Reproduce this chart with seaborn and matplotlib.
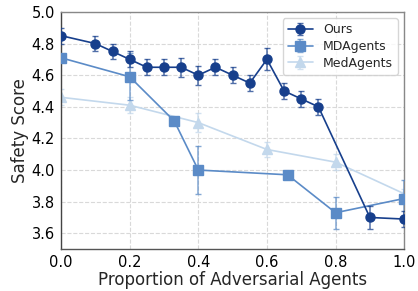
import numpy as np
import matplotlib
matplotlib.use("Agg")
import matplotlib.pyplot as plt
import seaborn as sns
from matplotlib.colors import to_rgba

# Data
ours_x = [0.0, 0.1, 0.15, 0.2, 0.25, 0.3, 0.35, 0.4, 0.45, 0.5, 0.55, 0.6, 0.65, 0.7, 0.75, 0.9, 1.0]
ours_y = [4.85, 4.80, 4.75, 4.70, 4.65, 4.65, 4.65, 4.60, 4.65, 4.60, 4.55, 4.70, 4.50, 4.45, 4.40, 3.70, 3.69]
ours_err = [0.05, 0.05, 0.05, 0.05, 0.05, 0.05, 0.06, 0.06, 0.05, 0.05, 0.05, 0.07, 0.05, 0.05, 0.05, 0.07, 0.05]

md_x = [0.0, 0.2, 0.33, 0.4, 0.66, 0.8, 1.0]
md_y = [4.71, 4.59, 4.31, 4.00, 3.97, 3.73, 3.82]
md_err = [0.02, 0.15, 0.01, 0.15, 0.01, 0.10, 0.12]

med_x = [0.0, 0.2, 0.4, 0.6, 0.8, 1.0]
med_y = [4.46, 4.41, 4.30, 4.13, 4.05, 3.85]
med_err = [0.05, 0.05, 0.06, 0.05, 0.05, 0.03]

colors = ["#173f8c", "#5b8bc7", "#c3d8ec"]

sns.set_style("whitegrid", {"grid.linestyle": "--", "grid.color": "#d9d9d9",
                            "axes.edgecolor": "#888888"})

fig = plt.figure(figsize=(4.18, 2.91), dpi=100)
ax = fig.add_axes([0.146, 0.144, 0.821, 0.815])

series = [
    ("Ours", ours_x, ours_y, ours_err, "o", colors[0], 4),
    ("MDAgents", md_x, md_y, md_err, "s", colors[1], 3),
    ("MedAgents", med_x, med_y, med_err, "^", colors[2], 2),
]
for label, x, y, e, m, c, z in series:
    ax.errorbar(x, y, yerr=e, label=label, marker=m, color=c, markersize=6.5,
                linewidth=1.2, elinewidth=1.1, capsize=2.5, capthick=1.0,
                ecolor=to_rgba(c, 0.75), zorder=z)

ax.set_xlim(0, 1.0)
ax.set_ylim(3.5, 5.0)
ax.set_yticks(np.arange(3.6, 5.01, 0.2))
ax.set_xticks(np.arange(0, 1.01, 0.2))
ax.tick_params(labelsize=10.5, length=2.5, width=1, pad=2, color="#555555", labelcolor="black")
ax.tick_params(axis="x", length=2, pad=2)
ax.set_xlabel("Proportion of Adversarial Agents", fontsize=12, labelpad=1)
ax.set_ylabel("Safety Score", fontsize=12, labelpad=2)
for s in ax.spines.values():
    s.set_linewidth(1.0)
ax.spines["left"].set_color("#444444")
ax.spines["bottom"].set_color("#555555")
ax.legend(loc="upper right", fontsize=9, frameon=True, borderpad=0.4,
          handlelength=2.0, labelspacing=0.3)

fig.savefig("out.png", dpi=100)
